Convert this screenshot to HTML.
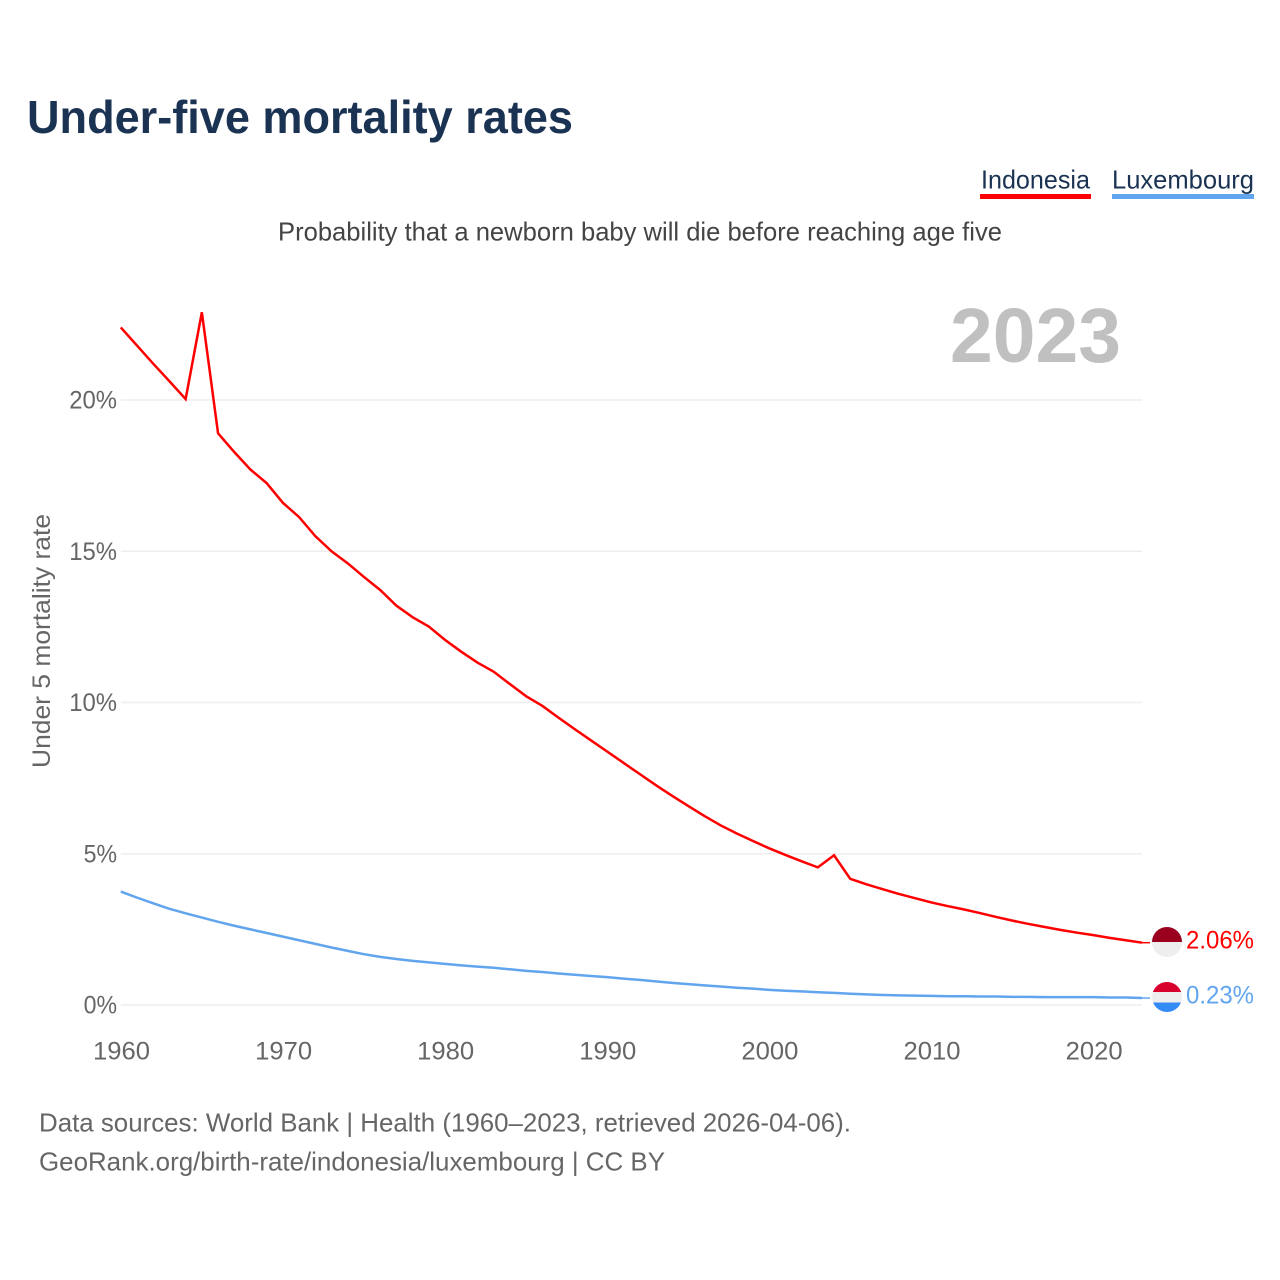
<!DOCTYPE html>
<html>
<head>
<meta charset="utf-8">
<style>
html,body{margin:0;padding:0;background:#fff;width:1280px;height:1280px;overflow:hidden}
svg{display:block;font-family:"Liberation Sans",sans-serif}
</style>
</head>
<body>
<svg id="chart" width="1280" height="1280" viewBox="0 0 1280 1280" xmlns="http://www.w3.org/2000/svg">
  <defs>
    <clipPath id="flag-clip-id"><circle cx="1167" cy="942" r="15"/></clipPath>
    <clipPath id="flag-clip-lu"><circle cx="1167" cy="997" r="15"/></clipPath>
  </defs>
  <text x="27" y="133" font-size="46" font-weight="700" fill="#1a3353" textLength="546" lengthAdjust="spacingAndGlyphs">Under-five mortality rates</text>
  <text x="981" y="188.5" font-size="26" fill="#1a3353" textLength="109" lengthAdjust="spacingAndGlyphs">Indonesia</text>
  <rect x="980" y="194" width="111" height="5" fill="#ff0000"/>
  <text x="1112" y="188.5" font-size="26" fill="#1a3353" textLength="142" lengthAdjust="spacingAndGlyphs">Luxembourg</text>
  <rect x="1112" y="194" width="142" height="5" fill="#61a5ee"/>
  <text x="278" y="240.5" font-size="26" fill="#444444" textLength="724" lengthAdjust="spacingAndGlyphs">Probability that a newborn baby will die before reaching age five</text>
  <text x="950" y="362" font-size="77" font-weight="700" fill="#c0c0c0" textLength="171" lengthAdjust="spacingAndGlyphs">2023</text>
  <g id="grid"></g>
  <g id="yticks"></g>
  <g id="xticks"></g>
  <text transform="translate(50,641) rotate(-90)" text-anchor="middle" font-size="25" fill="#666666" textLength="254" lengthAdjust="spacingAndGlyphs">Under 5 mortality rate</text>
  <path id="line-id" fill="none" stroke="#ff0000" stroke-width="2.5" stroke-linejoin="miter"/>
  <path id="line-lu" fill="none" stroke="#61a5ee" stroke-width="2.5" stroke-linejoin="round"/>
  <line id="lead-id" x2="1150" stroke="#ff0000" stroke-width="1.5"/>
  <line id="lead-lu" x2="1150" stroke="#61a5ee" stroke-width="1.5"/>
  <g clip-path="url(#flag-clip-id)">
    <rect x="1152" y="927" width="30" height="15" fill="#9b001f"/>
    <rect x="1152" y="942" width="30" height="15" fill="#eeeeee"/>
  </g>
  <g clip-path="url(#flag-clip-lu)">
    <rect x="1152" y="982" width="30" height="10" fill="#d8002c"/>
    <rect x="1152" y="992" width="30" height="10.5" fill="#eeeeee"/>
    <rect x="1152" y="1002.5" width="30" height="10" fill="#338bf5"/>
  </g>
  <text x="1186" y="948.5" font-size="25" fill="#ff0000" textLength="68" lengthAdjust="spacingAndGlyphs">2.06%</text>
  <text x="1186" y="1003.5" font-size="25" fill="#61a5ee" textLength="68" lengthAdjust="spacingAndGlyphs">0.23%</text>
  <text x="39" y="1131.5" font-size="26" fill="#666666" textLength="812" lengthAdjust="spacingAndGlyphs">Data sources: World Bank | Health (1960–2023, retrieved 2026-04-06).</text>
  <text x="39" y="1170.5" font-size="26" fill="#666666" textLength="626" lengthAdjust="spacingAndGlyphs">GeoRank.org/birth-rate/indonesia/luxembourg | CC BY</text>
</svg>
<script>
const firstYear = 1960;
const xTickYears = [1960, 1970, 1980, 1990, 2000, 2010, 2020];
const yTickValues = [0, 5, 10, 15, 20];
const indonesiaValues = [
  22.4, 21.8, 21.2, 20.62, 20.03, 22.9, 18.9, 18.28, 17.7, 17.25,
  16.6, 16.13, 15.5, 15.0, 14.6, 14.15, 13.72, 13.2, 12.82, 12.51,
  12.07, 11.68, 11.32, 11.02, 10.61, 10.21, 9.89, 9.5, 9.12, 8.75,
  8.38, 8.01, 7.64, 7.27, 6.92, 6.58, 6.25, 5.94, 5.67, 5.42,
  5.18, 4.96, 4.75, 4.55, 4.95, 4.17, 3.99, 3.83, 3.67, 3.53,
  3.39, 3.27, 3.16, 3.04, 2.91, 2.79, 2.68, 2.58, 2.48, 2.39,
  2.31, 2.22, 2.14, 2.06
];
const luxembourgValues = [
  3.75, 3.55, 3.36, 3.18, 3.03, 2.89, 2.75, 2.62, 2.5, 2.38,
  2.26, 2.14, 2.02, 1.9, 1.79, 1.68, 1.59, 1.52, 1.46, 1.41,
  1.36, 1.31, 1.27, 1.23, 1.18, 1.13, 1.09, 1.04, 1.0, 0.96,
  0.92, 0.87, 0.83, 0.78, 0.73, 0.69, 0.65, 0.61, 0.57, 0.54,
  0.5, 0.47, 0.45, 0.42, 0.4, 0.37, 0.35, 0.33, 0.32, 0.31,
  0.3, 0.29, 0.29, 0.28, 0.28, 0.27, 0.27, 0.26, 0.26, 0.26,
  0.26, 0.25, 0.25, 0.23
];
const NS = 'http://www.w3.org/2000/svg';
function xScale(year) { return 120.8 + (year - 1960) * 16.21; }
function yScale(value) { return 1005 - value * 30.25; }
function pathFrom(values) {
  return values.map(function (v, i) {
    return (i ? 'L' : 'M') + xScale(firstYear + i).toFixed(2) + ' ' + yScale(v).toFixed(2);
  }).join(' ');
}
function lastPoint(values) {
  return { x: xScale(firstYear + values.length - 1), y: yScale(values[values.length - 1]) };
}
const grid = document.getElementById('grid');
const yticks = document.getElementById('yticks');
const xticks = document.getElementById('xticks');
yTickValues.forEach(function (v) {
  const g = document.createElementNS(NS, 'line');
  
  
  g.setAttribute('x1', 121);
  g.setAttribute('x2', 1142);
  g.setAttribute('y1', yScale(v));
  g.setAttribute('y2', yScale(v));
  g.setAttribute('stroke', '#eeeeee');
  g.setAttribute('stroke-width', '1.6');
  grid.appendChild(g);
  const t = document.createElementNS(NS, 'text');
  
  
  t.setAttribute('x', 117);
  t.setAttribute('y', yScale(v) + 8.6);
  t.setAttribute('text-anchor', 'end');
  t.setAttribute('font-size', '25');
  t.setAttribute('fill', '#666666');
  const label = v + '%';
  t.setAttribute('textLength', (label.length - 1) * 14.4 + 19);
  t.setAttribute('lengthAdjust', 'spacingAndGlyphs');
  t.textContent = label;
  yticks.appendChild(t);
});
xTickYears.forEach(function (y) {
  const t = document.createElementNS(NS, 'text');
  
  
  t.setAttribute('x', xScale(y) + 0.7);
  t.setAttribute('y', 1059.5);
  t.setAttribute('text-anchor', 'middle');
  t.setAttribute('font-size', '25');
  t.setAttribute('fill', '#666666');
  t.setAttribute('textLength', '57');
  t.setAttribute('lengthAdjust', 'spacingAndGlyphs');
  t.textContent = y;
  xticks.appendChild(t);
});
document.getElementById('line-id').setAttribute('d', pathFrom(indonesiaValues));
document.getElementById('line-lu').setAttribute('d', pathFrom(luxembourgValues));
[['lead-id', indonesiaValues], ['lead-lu', luxembourgValues]].forEach(function (pair) {
  const el = document.getElementById(pair[0]);
  const p = lastPoint(pair[1]);
  el.setAttribute('x1', p.x);
  el.setAttribute('y1', p.y);
  el.setAttribute('y2', p.y);
});
</script>
</body>
</html>
